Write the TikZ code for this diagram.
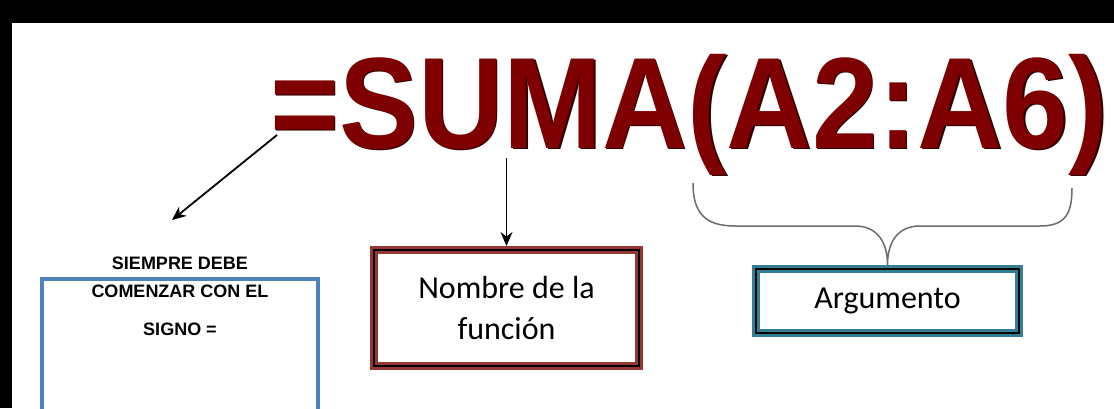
\documentclass[tikz,border=0pt]{standalone}
\usepackage{fontspec}
\usepackage{graphicx}
\usetikzlibrary{arrows.meta}
\newfontfamily\titlefont{Liberation Sans}
\newfontfamily\boxfont{Carlito}
\definecolor{sumared}{RGB}{127,0,0}
\definecolor{sumadark}{RGB}{45,0,0}
\definecolor{boxred}{RGB}{148,54,52}
\definecolor{boxteal}{RGB}{49,128,150}
\definecolor{boxblue}{RGB}{79,129,189}
\tikzset{
  labelbox/.style={draw=#1, line width=8pt, fill=white, align=center, inner sep=0pt,
    font=\boxfont\fontsize{32}{41}\selectfont},
  pointer/.style={-{Stealth[length=14pt,width=12pt]}, line width=1.8pt},
}
\begin{document}
\begin{tikzpicture}[x=1pt,y=1pt]

	\useasboundingbox (0,0) rectangle (1114,408);
	\clip (0,0) rectangle (1114,408);
	\fill[black] (0,0) rectangle (1114,408); %background
	\fill[white] (12,0) rectangle (1114,385); %sheet

	%formula
	\node[anchor=base west, text=sumadark, inner sep=0pt] (sumashadow) at (271.5,258.5)
	  {\titlefont\bfseries\fontsize{130}{130}\selectfont\scalebox{0.91}[1]{=SUMA(A2:A6)}};
	\node[anchor=base west, text=sumared, inner sep=0pt] (suma) at (270,260)
	  {\titlefont\bfseries\fontsize{130}{130}\selectfont\scalebox{0.91}[1]{=SUMA(A2:A6)}};

	%boxes
	\draw[boxblue, line width=4.5pt] (42,-20) rectangle (318,129); %blue box, open at the bottom
	\node[align=center, inner sep=0pt, anchor=north, font=\titlefont\bfseries\fontsize{18}{28}\selectfont] (signo) at (180,151)
	  {SIEMPRE DEBE\\ COMENZAR CON EL\\[10pt] SIGNO =};
	\node[labelbox=boxred, minimum width=265pt, minimum height=116pt] (nombre) at (506.5,100) {Nombre de la\\ función};
	\node[labelbox=boxteal, minimum width=263pt, minimum height=64pt] (arg) at (887.5,107) {Argumento};
	\foreach \n in {nombre,arg}
	  \draw[line width=1.8pt] ([shift={(4,-4)}]\n.north west) rectangle ([shift={(-4,4)}]\n.south east); %inner line

	%arrows
	\coordinate (eqfoot) at (277,273);
	\coordinate (eqtip) at (172,188);
	\coordinate (ufoot) at (506.5,250);
	\draw[pointer] (eqfoot) -- (eqtip); %to signo
	\draw[pointer] (ufoot) -- (nombre.north); %to nombre

	%brace
	\draw[gray!85!black, line width=1.5pt] (693,225) .. controls (693,195) and (705,182) .. (735,182) -- (855,182)
	  .. controls (878,182) and (887.5,165) .. (arg.north)
	  .. controls (887.5,165) and (897,182) .. (920,182) -- (1040,182)
	  .. controls (1066,182) and (1072,195) .. (1072,220);
\end{tikzpicture}
\end{document}
